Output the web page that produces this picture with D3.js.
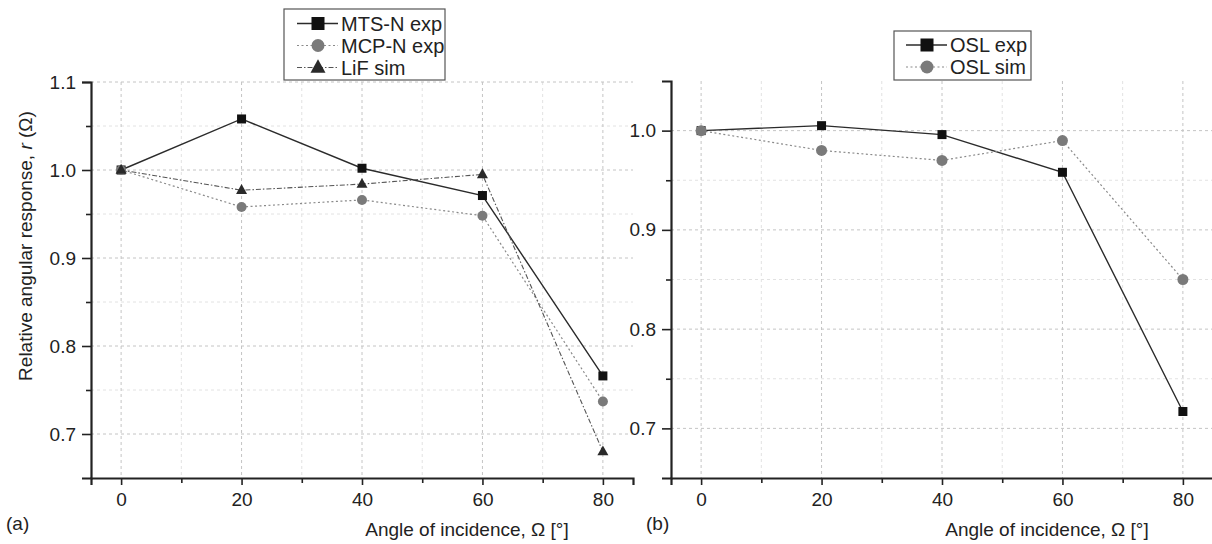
<!DOCTYPE html>
<html><head><meta charset="utf-8">
<script src="https://cdn.jsdelivr.net/npm/d3@7"></script>
<style>
html,body{margin:0;padding:0;background:#fff;}
svg{display:block;font-family:"Liberation Sans",Arial,Helvetica,sans-serif;}
</style></head>
<body>
<svg id="c" width="1212" height="544"></svg>
<script>
// ---- data ----
const angles = [0, 20, 40, 60, 80];
const mtsN = [1.000, 1.058, 1.002, 0.971, 0.766];
const mcpN = [1.000, 0.958, 0.966, 0.948, 0.737];
const lifSim = [1.000, 0.977, 0.984, 0.995, 0.680];
const oslExp = [1.000, 1.005, 0.996, 0.958, 0.717];
const oslSim = [1.000, 0.980, 0.970, 0.990, 0.850];
const xTicks = [0, 20, 40, 60, 80];
const xMinor = [10, 30, 50, 70];
const yTicksA = [0.7, 0.8, 0.9, 1.0, 1.1];
const yTicksB = [0.7, 0.8, 0.9, 1.0];
const yMinorA = [0.75, 0.85, 0.95, 1.05];
const yMinorB = [0.75, 0.85, 0.95];

const svg = d3.select("#c");
const FS = 19, TXT = "#222";

const styles = {
  solid: {stroke:"#2b2b2b", width:1.4, dash:null},
  dot: {stroke:"#8a8a8a", width:1.2, dash:"2,2.5"},
  dashdot: {stroke:"#555", width:1.1, dash:"5,2,1.5,2"}
};

function marker(g, type, x, y, s) {
  if (type === "square") {
    g.append("rect").attr("x", x - s/2).attr("y", y - s/2).attr("width", s).attr("height", s)
      .attr("fill", "#111");
  } else if (type === "circle") {
    g.append("circle").attr("cx", x).attr("cy", y).attr("r", s/2).attr("fill", "#7a7a7a");
  } else {
    const h = s * 0.9;
    g.append("path").attr("d", `M${x},${y - h*0.62} L${x + s/2},${y + h*0.38} L${x - s/2},${y + h*0.38} Z`)
      .attr("fill", "#2a2a2a");
  }
}

function panel(opt) {
  const g = svg.append("g");
  const x = d3.scaleLinear().domain([-5, 85]).range(opt.xr);
  const y = d3.scaleLinear().domain(opt.yd).range([478, opt.ytop]);
  const [x0, x1] = opt.xr;
  // minor grid
  g.selectAll(null).data(xMinor).join("line")
    .attr("x1", d => x(d)).attr("x2", d => x(d)).attr("y1", y.range()[1]).attr("y2", 478)
    .attr("stroke", "#e2e2e2").attr("stroke-width", 1).attr("stroke-dasharray", "3,3");
  g.selectAll(null).data(opt.yMinor).join("line")
    .attr("x1", x0).attr("x2", x1).attr("y1", d => y(d)).attr("y2", d => y(d))
    .attr("stroke", "#e2e2e2").attr("stroke-width", 1).attr("stroke-dasharray", "3,3");
  // major grid
  g.selectAll(null).data(xTicks).join("line")
    .attr("x1", d => x(d)).attr("x2", d => x(d)).attr("y1", y.range()[1]).attr("y2", 478)
    .attr("stroke", "#c4c4c4").attr("stroke-width", 1).attr("stroke-dasharray", "3,3");
  g.selectAll(null).data(opt.yTicks).join("line")
    .attr("x1", x0).attr("x2", x1).attr("y1", d => y(d)).attr("y2", d => y(d))
    .attr("stroke", "#c4c4c4").attr("stroke-width", 1).attr("stroke-dasharray", "3,3");

  // axes
  const xa = g.append("g").attr("transform", "translate(0,478)")
    .call(d3.axisBottom(x).tickValues(xTicks).tickSize(7).tickPadding(8).tickFormat(d3.format("d")));
  g.append("g").attr("transform", "translate(0,478)")
    .call(d3.axisBottom(x).tickValues(xMinor).tickSize(5).tickFormat(""))
    .call(a => a.select(".domain").remove());
  const ya = g.append("g").attr("transform", `translate(${x0},0)`)
    .call(d3.axisLeft(y).tickValues(opt.yTicks).tickSize(9).tickPadding(6).tickFormat(d3.format(".1f")));
  g.append("g").attr("transform", `translate(${x0},0)`)
    .call(d3.axisLeft(y).tickValues(opt.yMinor).tickSize(5).tickFormat(""))
    .call(a => a.select(".domain").remove());
  g.selectAll(".tick line").attr("stroke", "#222").attr("stroke-width", 1.6);
  g.selectAll(".domain").attr("stroke", "#222").attr("stroke-width", 2.2);
  g.selectAll(".tick text").attr("fill", TXT).attr("font-size", FS)
    .attr("font-family", '"Liberation Sans",Arial,sans-serif');

  // series
  opt.series.forEach(s => {
    const st = styles[s.style];
    const pts = angles.map((a, i) => [x(a), y(s.values[i])]);
    g.append("path").attr("d", d3.line()(pts)).attr("fill", "none")
      .attr("stroke", st.stroke).attr("stroke-width", st.width)
      .attr("stroke-dasharray", st.dash);
  });
  opt.series.forEach(s => {
    angles.forEach((a, i) => marker(g, s.marker, x(a), y(s.values[i]), s.size));
  });

  // x title
  g.append("text").attr("x", (x(0) + x(80)) / 2 + 105).attr("y", 536)
    .attr("text-anchor", "middle").attr("font-size", FS).attr("fill", TXT)
    .text("Angle of incidence, Ω [°]");
  g.append("text").attr("x", opt.tagX).attr("y", 530).attr("font-size", FS).attr("fill", TXT)
    .text(opt.tag);

  // legend
  const L = opt.legend;
  const lg = g.append("g");
  lg.append("rect").attr("x", L.x).attr("y", L.y).attr("width", L.w).attr("height", L.h)
    .attr("fill", "#fff").attr("stroke", "#555").attr("stroke-width", 1.2);
  opt.series.forEach((s, i) => {
    const cy = L.y0 + i * 22;
    const st = styles[s.style];
    lg.append("line").attr("x1", L.lx).attr("x2", L.lx + 41).attr("y1", cy).attr("y2", cy)
      .attr("stroke", st.stroke).attr("stroke-width", st.width).attr("stroke-dasharray", st.dash);
    marker(lg, s.marker, L.lx + 21, cy, s.marker === "triangle" ? 15 : 13);
    lg.append("text").attr("x", L.lx + 44).attr("y", cy + 7).attr("font-size", FS + 1).attr("fill", TXT)
      .text(s.name);
  });
  return {x, y};
}

panel({
  xr: [91, 633], yd: [0.65, 1.1], ytop: 82, yTicks: yTicksA, yMinor: yMinorA,
  tag: "(a)", tagX: 6,
  series: [
    {name: "MTS-N exp", values: mtsN, style: "solid", marker: "square", size: 9},
    {name: "MCP-N exp", values: mcpN, style: "dot", marker: "circle", size: 10},
    {name: "LiF sim", values: lifSim, style: "dashdot", marker: "triangle", size: 11}
  ],
  legend: {x: 284, y: 9, w: 161, h: 71, y0: 23.5, lx: 297}
});
panel({
  xr: [671, 1213], yd: [0.65, 1.05], ytop: 81, yTicks: yTicksB, yMinor: yMinorB,
  tag: "(b)", tagX: 646,
  series: [
    {name: "OSL exp", values: oslExp, style: "solid", marker: "square", size: 9},
    {name: "OSL sim", values: oslSim, style: "dot", marker: "circle", size: 11}
  ],
  legend: {x: 894, y: 31, w: 137, h: 49, y0: 45, lx: 906}
});

// y axis label (panel a)
svg.append("text").attr("transform", "translate(32,246) rotate(-90)")
  .attr("text-anchor", "middle").attr("font-size", FS).attr("fill", TXT)
  .html('Relative angular response, <tspan font-style="italic">r</tspan> (Ω)');
</script>
</body></html>
